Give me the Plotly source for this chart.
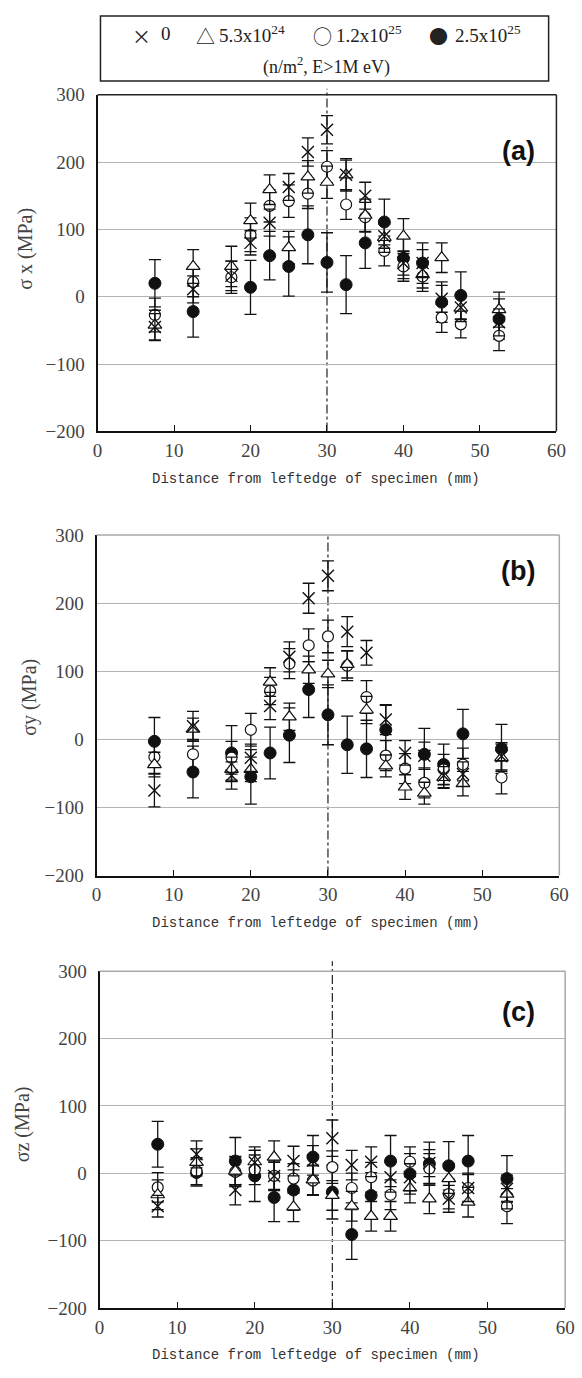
import plotly.graph_objects as go

W, H = 582, 1378

# ---------------- data ----------------
distance = [7.5, 12.5, 17.5, 20, 22.5, 25, 27.5, 30, 32.5, 35, 37.5, 40, 42.5, 45, 47.5, 52.5]
series_names = ["0", "5.3x10^24", "1.2x10^25", "2.5x10^25"]

# panel (a) sigma x
sx_0 = [-45, 11, 31, 80, 110, 163, 215, 248, 181, 150, 90, 50, 50, -3, -16, -38]
sx_0_err = [20, 20, 22, 18, 20, 20, 21, 21, 22, 20, 18, 18, 20, 20, 18, 20]
sx_53 = [-42, 45, 45, 113, 159, 73, 178, 170, 181, 121, 88, 90, 33, 58, -17, -19]
sx_53_err = [22, 25, 30, 26, 22, 24, 24, 24, 24, 24, 22, 26, 20, 22, 20, 26]
sx_12 = [-27, 22, 29, 92, 135, 142, 153, 193, 137, 118, 68, 45, 30, -31, -41, -58]
sx_12_err = [25, 22, 24, 25, 24, 24, 22, 24, 22, 22, 22, 22, 22, 22, 20, 22]
sx_25 = [20, -22, None, 14, 61, 45, 92, 51, 18, 80, 111, 57, 50, -8, 2, -33]
sx_25_err = [35, 38, 0, 40, 36, 44, 43, 44, 43, 38, 34, 30, 30, 30, 35, 30]

# panel (b) sigma y
sy_0 = [-75, 19, -53, -27, 49, 121, 207, 240, 158, 127, 29, -20, -24, -53, -51, -25]
sy_0_err = [24, 22, 20, 20, 20, 22, 22, 22, 22, 18, 22, 18, 20, 18, 18, 20]
sy_53 = [-37, 15, -44, -44, 84, 33, 102, 96, 110, 43, -39, -70, -79, -56, -65, -27]
sy_53_err = [18, 16, 18, 18, 21, 20, 20, 20, 20, 20, 16, 18, 16, 16, 18, 20]
sy_12 = [-26, -22, -27, 14, 71, 111, 138, 151, 108, 62, -24, -43, -64, -44, -37, -56]
sy_12_err = [24, 22, 24, 24, 20, 22, 24, 24, 22, 24, 22, 22, 22, 22, 24, 24]
sy_25 = [-3, -48, -20, -55, -20, 6, 73, 36, -8, -14, 14, None, -22, -37, 8, -14]
sy_25_err = [35, 38, 40, 40, 38, 40, 41, 44, 42, 42, 36, 0, 38, 30, 36, 36]

# panel (c) sigma z
sz_0 = [-49, 28, -25, 16, -4, 18, 19, 52, 12, 17, -6, -6, 15, -38, -22, -23]
sz_0_err = [16, 20, 22, 18, 20, 22, 22, 27, 22, 22, 22, 20, 20, 20, 20, 20]
sz_53 = [-32, 16, 3, 17, 24, -50, -10, -33, -49, -64, -64, -22, -38, -8, -43, -31]
sz_53_err = [22, 20, 22, 22, 24, 22, 22, 22, 22, 22, 22, 22, 22, 22, 22, 22]
sz_12 = [-21, 3, 2, 5, -4, -8, -11, 9, -22, -6, -32, 17, 7, -31, -22, -49]
sz_12_err = [22, 20, 22, 22, 22, 22, 22, 24, 22, 22, 22, 22, 22, 22, 22, 26]
sz_25 = [43, 1, 18, -4, -36, -25, 24, -28, -91, -33, 18, -1, 14, 11, 18, -8]
sz_25_err = [34, 20, 35, 38, 36, 30, 32, 40, 37, 34, 38, 30, 32, 36, 38, 34]

y_ticks = [-200, -100, 0, 100, 200, 300]
x_ticks = [0, 10, 20, 30, 40, 50, 60]

legend_symbols = ["×", "△", "○", "●"]
legend_labels = ["0", "5.3x10<sup>24</sup>", "1.2x10<sup>25</sup>", "2.5x10<sup>25</sup>"]
legend_unit = "(n/m<sup>2</sup>, E>1M eV)"

# ---------------- layout geometry (pixels) ----------------
panels = [
    dict(l=95, r=566, t=86, b=428, label="(a)", ytitle="σ x (MPa)", ty=242, tx=21, frame="#222222",
         data=[(sx_25, sx_25_err), (sx_12, sx_12_err), (sx_53, sx_53_err), (sx_0, sx_0_err)], lab_y=143,
         vtop=80),
    dict(l=94, r=569, t=533, b=879, label="(b)", ytitle="σy (MPa)", ty=698, tx=25, frame="#a8a8a8",
         data=[(sy_25, sy_25_err), (sy_12, sy_12_err), (sy_53, sy_53_err), (sy_0, sy_0_err)], lab_y=570,
         vtop=533),
    dict(l=97, r=575, t=976, b=1318, label="(c)", ytitle="σz (MPa)", ty=1132, tx=18, frame="#a8a8a8",
         data=[(sz_25, sz_25_err), (sz_12, sz_12_err), (sz_53, sz_53_err), (sz_0, sz_0_err)], lab_y=1018,
         vtop=966),
]


def fx(p):
    return p / W


def fy(p):
    return 1 - p / H


markers = [
    dict(symbol="circle", size=12, color="#111111", line=dict(color="#111111", width=1)),
    dict(symbol="circle", size=11, color="white", line=dict(color="#111111", width=1.2)),
    dict(symbol="triangle-up", size=12, color="white", line=dict(color="#111111", width=1.2)),
    dict(symbol="x-thin", size=12, color="#111111", line=dict(color="#111111", width=1.4)),
]

fig = go.Figure()
shapes = []
annotations = []
tick_font = dict(family="Liberation Serif, serif", size=19, color="#444444")

for i, p in enumerate(panels):
    n = "" if i == 0 else str(i + 1)
    xa, ya = "x" + n, "y" + n
    for k, (vals, errs) in enumerate(p["data"]):
        fig.add_trace(go.Scatter(
            x=distance, y=vals, mode="markers", name=series_names[k], showlegend=False,
            marker=markers[k], xaxis=xa, yaxis=ya,
            error_y=dict(type="data", array=errs, visible=True, color="#111111", thickness=1.3, width=6),
        ))
    fig.layout["xaxis" + n] = dict(
        domain=[fx(p["l"]), fx(p["r"])], range=[0, 60], tickvals=x_ticks, anchor=ya,
        showgrid=False, zeroline=False, showline=True, linecolor="#111111", linewidth=2,
        ticks="inside", ticklen=6, tickcolor="#111111", tickwidth=1, tickfont=tick_font,
        ticklabelstandoff=1,
    )
    fig.layout["yaxis" + n] = dict(
        domain=[fy(p["b"]), fy(p["t"])], range=[-200, 300], tickvals=y_ticks, anchor=xa,
        showgrid=True, gridcolor="#b4b4b4", gridwidth=1, zeroline=False, showline=True,
        linecolor="#111111", linewidth=2, ticks="", tickfont=tick_font, ticklabelstandoff=7,
        tickformat="d",
    )
    # top and right frame
    shapes.append(dict(type="line", xref="paper", yref="paper", x0=fx(p["l"]), x1=fx(p["r"]),
                       y0=fy(p["t"]), y1=fy(p["t"]), line=dict(color=p["frame"], width=1.5)))
    shapes.append(dict(type="line", xref="paper", yref="paper", x0=fx(p["r"]), x1=fx(p["r"]),
                       y0=fy(p["t"]), y1=fy(p["b"]), line=dict(color=p["frame"], width=1.5)))
    # centre line at 30 mm
    shapes.append(dict(type="line", xref=xa, yref="paper", x0=30, x1=30,
                       y0=fy(p["b"]), y1=fy(p["vtop"]), line=dict(color="#222222", width=1.2, dash="dashdot"),
                       layer="below"))
    annotations.append(dict(text="<b>" + p["label"] + "</b>", xref="paper", yref="paper",
                            x=fx(527), y=fy(p["lab_y"]), xanchor="center", yanchor="middle",
                            showarrow=False, font=dict(family="Liberation Sans", size=27, color="#111111")))
    annotations.append(dict(text=p["ytitle"], xref="paper", yref="paper", textangle=-90,
                            x=fx(p["tx"]), y=fy(p["ty"]), xanchor="center", yanchor="middle",
                            showarrow=False, font=dict(family="Liberation Serif, serif", size=20, color="#444444")))
    annotations.append(dict(text="Distance from leftedge of specimen (mm)", xref="paper", yref="paper",
                            x=fx(319), y=fy(p["b"] + 48), xanchor="center", yanchor="middle",
                            showarrow=False, font=dict(family="Liberation Mono", size=14, color="#333333")))

# legend box
shapes.append(dict(type="rect", xref="paper", yref="paper", x0=fx(98), x1=fx(558), y0=fy(72), y1=fy(6),
                   line=dict(color="#222222", width=1.5), fillcolor="white"))
leg_font = dict(family="Liberation Serif, serif", size=19, color="#222222")
sym_font = dict(family="Noto Sans CJK JP", size=19, color="#222222")
sym_x = [140, 206, 326, 445]
lab_x = [158, 218, 338, 460]
for k in range(4):
    annotations.append(dict(text=legend_symbols[k], xref="paper", yref="paper", x=fx(sym_x[k]), y=fy(26),
                            xanchor="center", yanchor="middle", showarrow=False, font=sym_font))
    annotations.append(dict(text=legend_labels[k], xref="paper", yref="paper", x=fx(lab_x[k]), y=fy(24),
                            xanchor="left", yanchor="middle", showarrow=False, font=leg_font))
annotations.append(dict(text=legend_unit, xref="paper", yref="paper", x=fx(330), y=fy(57),
                        xanchor="center", yanchor="middle", showarrow=False,
                        font=dict(family="Liberation Serif, serif", size=18, color="#222222")))

fig.update_layout(
    width=W, height=H, margin=dict(l=0, r=0, t=0, b=0),
    paper_bgcolor="white", plot_bgcolor="white",
    shapes=shapes, annotations=annotations, showlegend=False,
)

fig.write_html("out.html")
